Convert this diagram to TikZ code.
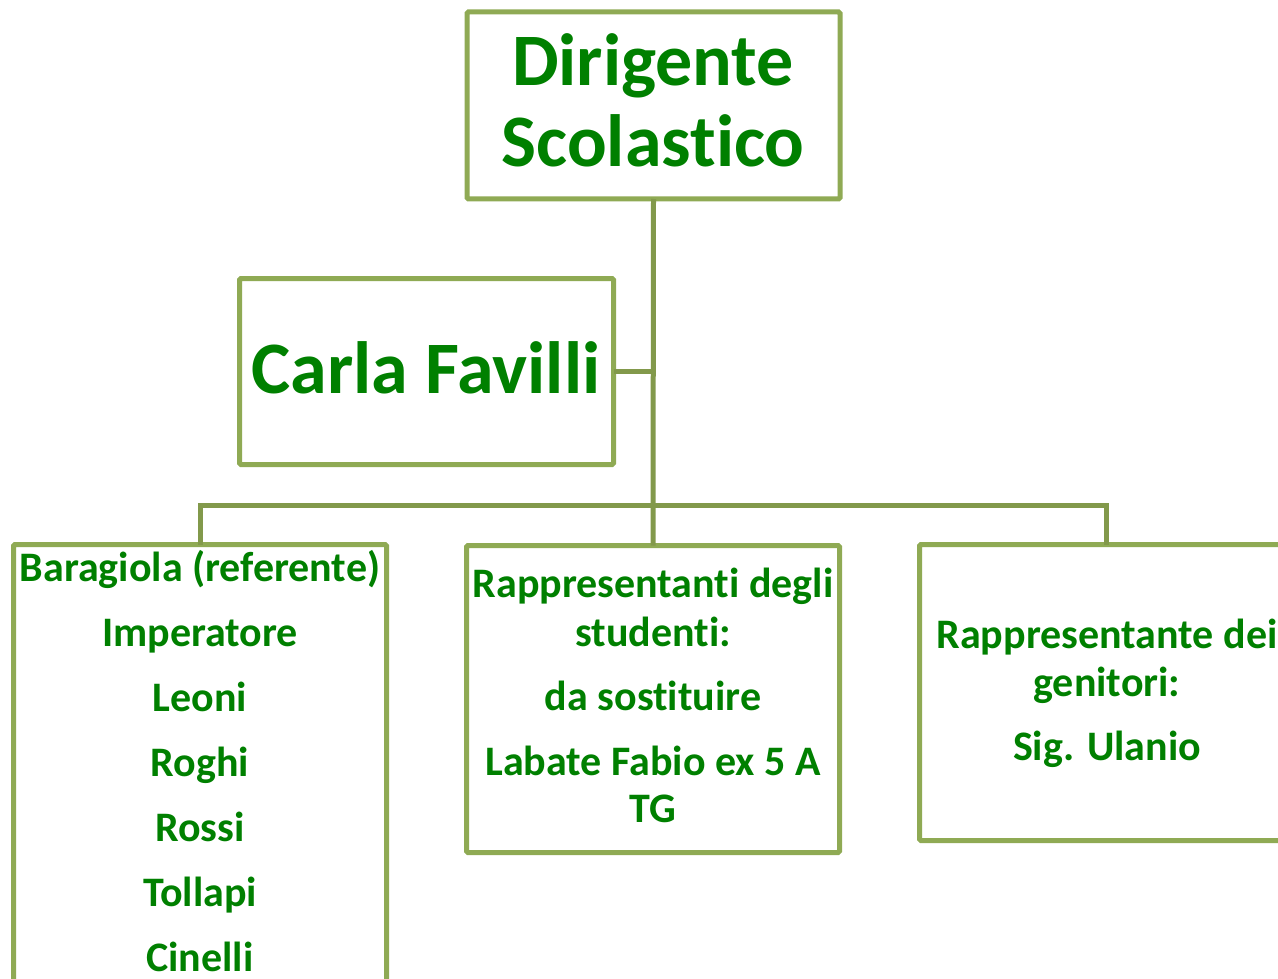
\documentclass[tikz,border=0pt]{standalone}
\usepackage{fontspec}
\setmainfont{Carlito}[Ligatures={NoCommon}]
\definecolor{boxline}{HTML}{8FAA54}
\definecolor{conline}{HTML}{82994B}
\definecolor{txtgreen}{HTML}{008000}
\begin{document}
\begin{tikzpicture}[x=1pt,y=-1pt,
  orgbox/.style={draw=boxline, line width=5pt, fill=white, rectangle, rounded corners=1.5pt, inner sep=0pt, outer sep=0pt},
  conn/.style={draw=conline, line width=5pt},
  bigtxt/.style={text=txtgreen, font=\fontsize{74}{80}\selectfont\bfseries, anchor=base, inner sep=0pt},
  smalltxt/.style={text=txtgreen, font=\fontsize{42}{48}\selectfont\bfseries, anchor=base, inner sep=0pt}]
\useasboundingbox (0,0) rectangle (1278,979);
% boxes
\node[orgbox, minimum width=373pt, minimum height=187pt] (ds) at (653.5,105.5) {};
\node[orgbox, minimum width=374pt, minimum height=186pt] (cf) at (426.5,371.5) {};
\node[orgbox, minimum width=373pt, minimum height=600pt, anchor=north] (lb) at (200,544.5) {};
\node[orgbox, minimum width=373pt, minimum height=307pt, anchor=north] (mb) at (653,545.5) {};
\node[orgbox, minimum width=373pt, minimum height=296pt, anchor=north] (rb) at (1106,544.5) {};
% connectors
\coordinate (jn) at (653,505);
\draw[conn] (ds.south) -- (mb.north);
\draw[conn] (cf.east) -- (cf.east -| ds.south);
\draw[conn] (lb.north) |- (jn) -| (rb.north);
% texts
\node[bigtxt] (t1) at (653,86) {Dirigente};
\node[bigtxt] (t2) at (653,167) {Scolastico};
\node[bigtxt] (t3) at (426,393) {Carla Favilli};
\node[smalltxt] (l1) at (200,581) {Baragiola (referente)};
\node[smalltxt] (l2) at (200,646) {Imperatore};
\node[smalltxt] (l3) at (200,711) {Leoni};
\node[smalltxt] (l4) at (200,776) {Roghi};
\node[smalltxt] (l5) at (200,841) {Rossi};
\node[smalltxt] (l6) at (200,906) {Tollapi};
\node[smalltxt] (l7) at (200,971) {Cinelli};
\node[smalltxt] (m1) at (653,597) {Rappresentanti degli};
\node[smalltxt] (m2) at (653,646) {studenti:};
\node[smalltxt] (m3) at (653,710) {da sostituire};
\node[smalltxt] (m4) at (653,775) {Labate Fabio ex 5 A};
\node[smalltxt] (m5) at (653,822) {TG};
\node[smalltxt] (r1) at (1107,648) {Rappresentante dei};
\node[smalltxt] (r2) at (1107,696) {genitori:};
\node[smalltxt] (r3) at (1107,760) {Sig. Ulanio};
\end{tikzpicture}
\end{document}
